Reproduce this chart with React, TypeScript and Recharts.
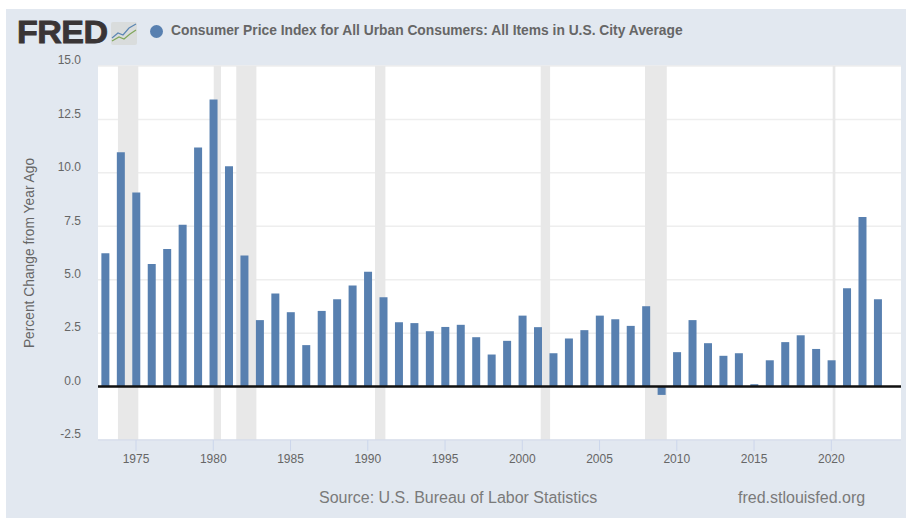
import React from 'react';
import { BarChart, Bar, XAxis, YAxis, CartesianGrid, Legend, ReferenceArea, ReferenceLine } from 'recharts';

const years = [
  1973, 1974, 1975, 1976, 1977, 1978, 1979, 1980, 1981, 1982, 1983, 1984, 1985,
  1986, 1987, 1988, 1989, 1990, 1991, 1992, 1993, 1994, 1995, 1996, 1997, 1998,
  1999, 2000, 2001, 2002, 2003, 2004, 2005, 2006, 2007, 2008, 2009, 2010, 2011,
  2012, 2013, 2014, 2015, 2016, 2017, 2018, 2019, 2020, 2021, 2022, 2023,
];
const cpiChange = [
  6.24, 10.97, 9.08, 5.74, 6.44, 7.57, 11.19, 13.43, 10.31, 6.13, 3.11, 4.36, 3.48,
  1.94, 3.54, 4.09, 4.73, 5.37, 4.18, 3.01, 2.97, 2.59, 2.79, 2.89, 2.31, 1.5,
  2.14, 3.32, 2.78, 1.56, 2.25, 2.64, 3.32, 3.15, 2.84, 3.76, -0.39, 1.61, 3.11,
  2.03, 1.44, 1.56, 0.11, 1.23, 2.08, 2.4, 1.76, 1.23, 4.6, 7.94, 4.09,
];
const recessions = [
  [1973.83, 1975.15],
  [1980.03, 1980.5],
  [1981.49, 1982.79],
  [1990.47, 1991.14],
  [2001.19, 2001.8],
  [2007.94, 2009.35],
  [2020.09, 2020.26],
];
const xTicks = [1975, 1980, 1985, 1990, 1995, 2000, 2005, 2010, 2015, 2020];
const yTicks = [-2.5, 0, 2.5, 5, 7.5, 10, 12.5, 15];

const seriesName = 'Consumer Price Index for All Urban Consumers: All Items in U.S. City Average';
const font = '"Liberation Sans", Arial, sans-serif';

const data = years.map((year, i) => ({ year, value: cpiChange[i] }));

const Logo = () => (
  <>
    <span
      style={{
        position: 'absolute',
        left: 17,
        top: 15,
        fontFamily: font,
        fontWeight: 700,
        fontSize: 31,
        lineHeight: '36px',
        color: '#3a3536',
        letterSpacing: -0.5,
        WebkitTextStroke: '0.8px #3a3536',
        transform: 'scaleX(1.1)',
        transformOrigin: 'left center',
      }}
    >
      FRED
    </span>
    <svg width={27} height={24} style={{ position: 'absolute', left: 111, top: 21 }}>
      <rect x={0} y={1} width={26} height={23} rx={2} fill="#d9dcdc" />
      <polyline points="1,17 7,12 12,14 18,7 25,3" fill="none" stroke="#5b86b3" strokeWidth={1.2} />
      <polyline points="1,20 8,16 13,18 19,13 25,9" fill="none" stroke="#7fa65a" strokeWidth={1.2} />
    </svg>
  </>
);

const App = () => {
  return (
    <div style={{ position: 'absolute', left: 0, top: 0, width: 906, height: 518, background: '#fff', overflow: 'hidden' }}>
      <div style={{ position: 'absolute', left: 6, top: 9, width: 900, height: 509, background: '#e2e8f0' }} />
      <Logo />
      <div style={{ position: 'absolute', left: 0, top: 0 }}>
        <BarChart
          width={906}
          height={518}
          data={data}
          margin={{ top: 66, right: 5, bottom: 48, left: 38 }}
        >
          <CartesianGrid horizontal vertical={false} stroke="#eeeeee" strokeWidth={1.5} fill="#ffffff" />
          {recessions.map(([start, end]) => (
            <ReferenceArea key={start} x1={start} x2={end} fill="#e8e8e8" fillOpacity={1} stroke="none" />
          ))}
          <XAxis
            dataKey="year"
            type="number"
            domain={[1972.54, 2024.51]}
            ticks={xTicks}
            interval={0}
            height={30}
            tickSize={11}
            tickMargin={3}
            allowDataOverflow
            stroke="#ccd6eb"
            tick={{ fill: '#666666', fontSize: 12, fontFamily: font }}
          />
          <YAxis
            domain={[-2.5, 15]}
            ticks={yTicks}
            interval={0}
            width={60}
            tickLine={false}
            axisLine={false}
            tickMargin={11}
            tickFormatter={(v: number) => v.toFixed(1)}
            tick={{ fill: '#666666', fontSize: 12, fontFamily: font, dy: -6 }}
            label={{
              value: 'Percent Change from Year Ago',
              angle: -90,
              position: 'center',
              dx: -39,
              style: { fill: '#666666', fontSize: 13.8, fontFamily: font },
            }}
          />
          <Legend
            layout="horizontal"
            verticalAlign="middle"
            align="center"
            iconType="circle"
            iconSize={13}
            wrapperStyle={{ position: 'absolute', left: 150, top: 23, width: 'auto', fontFamily: font, fontWeight: 700, fontSize: 13.8 }}
            formatter={(name: string) => <span style={{ color: '#666666', marginLeft: 4 }}>{name}</span>}
          />
          <Bar dataKey="value" name={seriesName} fill="#5880b0" barSize={8} isAnimationActive={false} />
          <ReferenceLine y={0} stroke="#111111" strokeWidth={2.5} />
        </BarChart>
      </div>
      <div style={{ position: 'absolute', left: 319, top: 489, fontFamily: font, fontSize: 16, color: '#7a7a7a', whiteSpace: 'nowrap' }}>
        Source: U.S. Bureau of Labor Statistics
      </div>
      <div style={{ position: 'absolute', left: 738, top: 489, fontFamily: font, fontSize: 16, color: '#7a7a7a', whiteSpace: 'nowrap' }}>
        fred.stlouisfed.org
      </div>
    </div>
  );
};

export default App;
